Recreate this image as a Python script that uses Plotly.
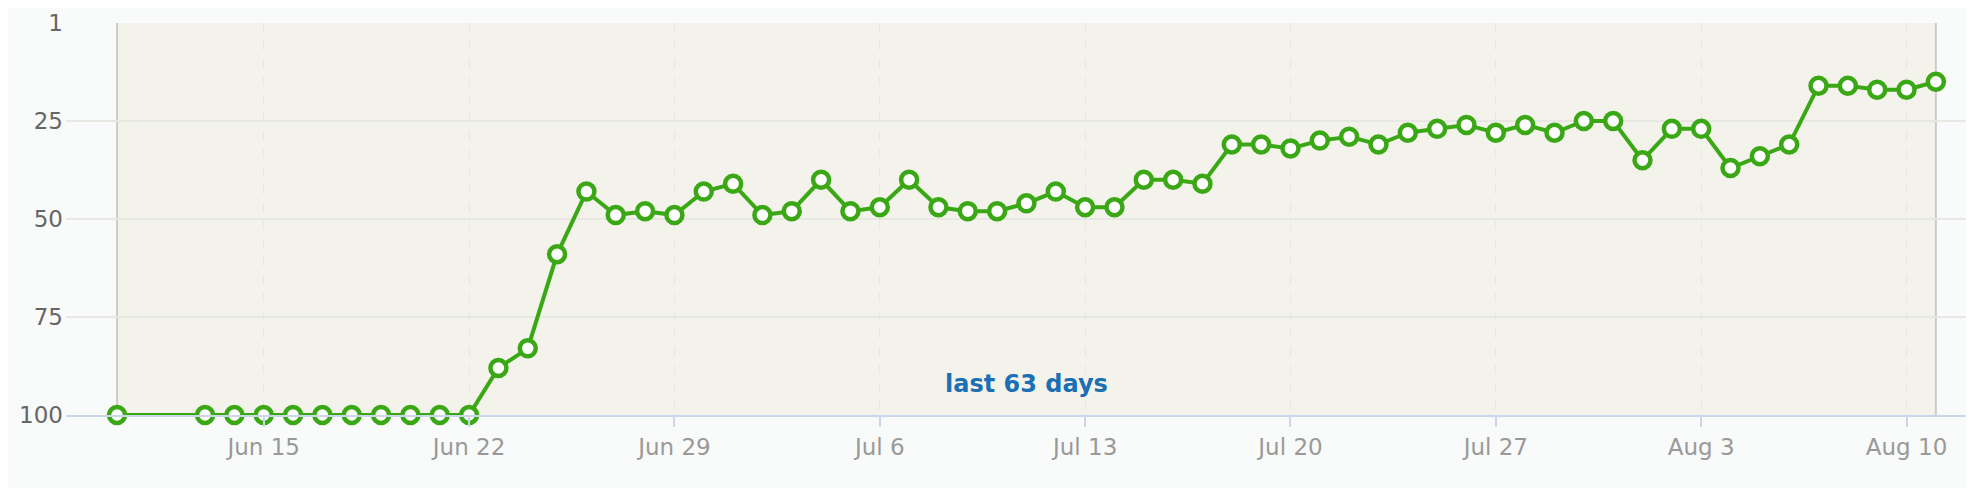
import pandas as pd
import plotly.graph_objects as go

# daily rank, Jun 10 - Aug 11 (Jun 11 and Jun 12 missing)
dates = ["2015-06-10"] + [str(d.date()) for d in pd.date_range("2015-06-13", "2015-08-11")]
rank = [100,
        100, 100, 100, 100, 100, 100, 100, 100, 100, 100,
        88, 83, 59, 43, 49, 48, 49, 43, 41, 49, 48, 40, 48, 47,
        40, 47, 48, 48, 46, 43, 47, 47, 40, 40, 41, 31, 31, 32,
        30, 29, 31, 28, 27, 26, 28, 26, 28, 25, 25, 35, 27, 27,
        37, 34, 31, 16, 16, 17, 17, 15]

y_ticks = [0, 25, 50, 75, 100]
y_labels = ["1", "25", "50", "75", "100"]
x_ticks = ["2015-06-15", "2015-06-22", "2015-06-29", "2015-07-06",
           "2015-07-13", "2015-07-20", "2015-07-27", "2015-08-03", "2015-08-10"]
band_label = "last 63 days"

green = "#3aa815"
font = "DejaVu Sans"

start = pd.Timestamp(dates[0])
end = pd.Timestamp(dates[-1])
x_lo = start - pd.Timedelta(days=1.74)
x_hi = end + pd.Timedelta(days=1.3)

fig = go.Figure()

fig.add_trace(go.Scatter(
    x=dates, y=rank, mode="lines+markers",
    line=dict(color=green, width=4),
    marker=dict(symbol="circle", size=16, color="white",
                line=dict(color=green, width=4.5)),
    cliponaxis=False, showlegend=False,
))

# shaded band with edge lines
fig.add_shape(type="rect", xref="x", yref="paper", x0=start, x1=end, y0=0, y1=1,
              fillcolor="#f3f3eb", line=dict(width=0), layer="below")
for xx in [start, end]:
    fig.add_shape(type="line", xref="x", yref="paper", x0=xx, x1=xx, y0=0, y1=1,
                  line=dict(color="#cccccc", width=2), layer="below")

fig.add_annotation(x=start + (end - start) / 2, y=0.08, xref="x", yref="paper",
                   text="<b>" + band_label + "</b>", showarrow=False,
                   font=dict(family=font, size=24, color="#1b6fb5"), yanchor="middle")

# page has an 8px body margin, so the figure is a bit smaller than the window
fig.update_layout(
    width=1966, height=480,
    margin=dict(l=58, r=0, t=15, b=73),
    paper_bgcolor="#f9fafa", plot_bgcolor="#f9fafa",
    font=dict(family=font),
)

fig.update_xaxes(
    range=[x_lo, x_hi], tickvals=x_ticks, tickformat="%b %-d",
    ticks="outside", ticklen=10, tickwidth=2, tickcolor="#ccd6eb",
    showline=True, linecolor="#ccd6eb", linewidth=2,
    showgrid=True, gridcolor="#e7e7df", griddash="dash", gridwidth=1,
    tickfont=dict(family=font, size=23, color="#999999"),
    zeroline=False,
)

fig.update_yaxes(
    range=[100, 0], tickvals=y_ticks, ticktext=y_labels,
    showgrid=True, gridcolor="#e8e8e2", gridwidth=2, zeroline=False,
    tickfont=dict(family=font, size=23, color="#666666"),
    ticks="", ticklabelstandoff=2,
)

fig.write_html("out.html")
